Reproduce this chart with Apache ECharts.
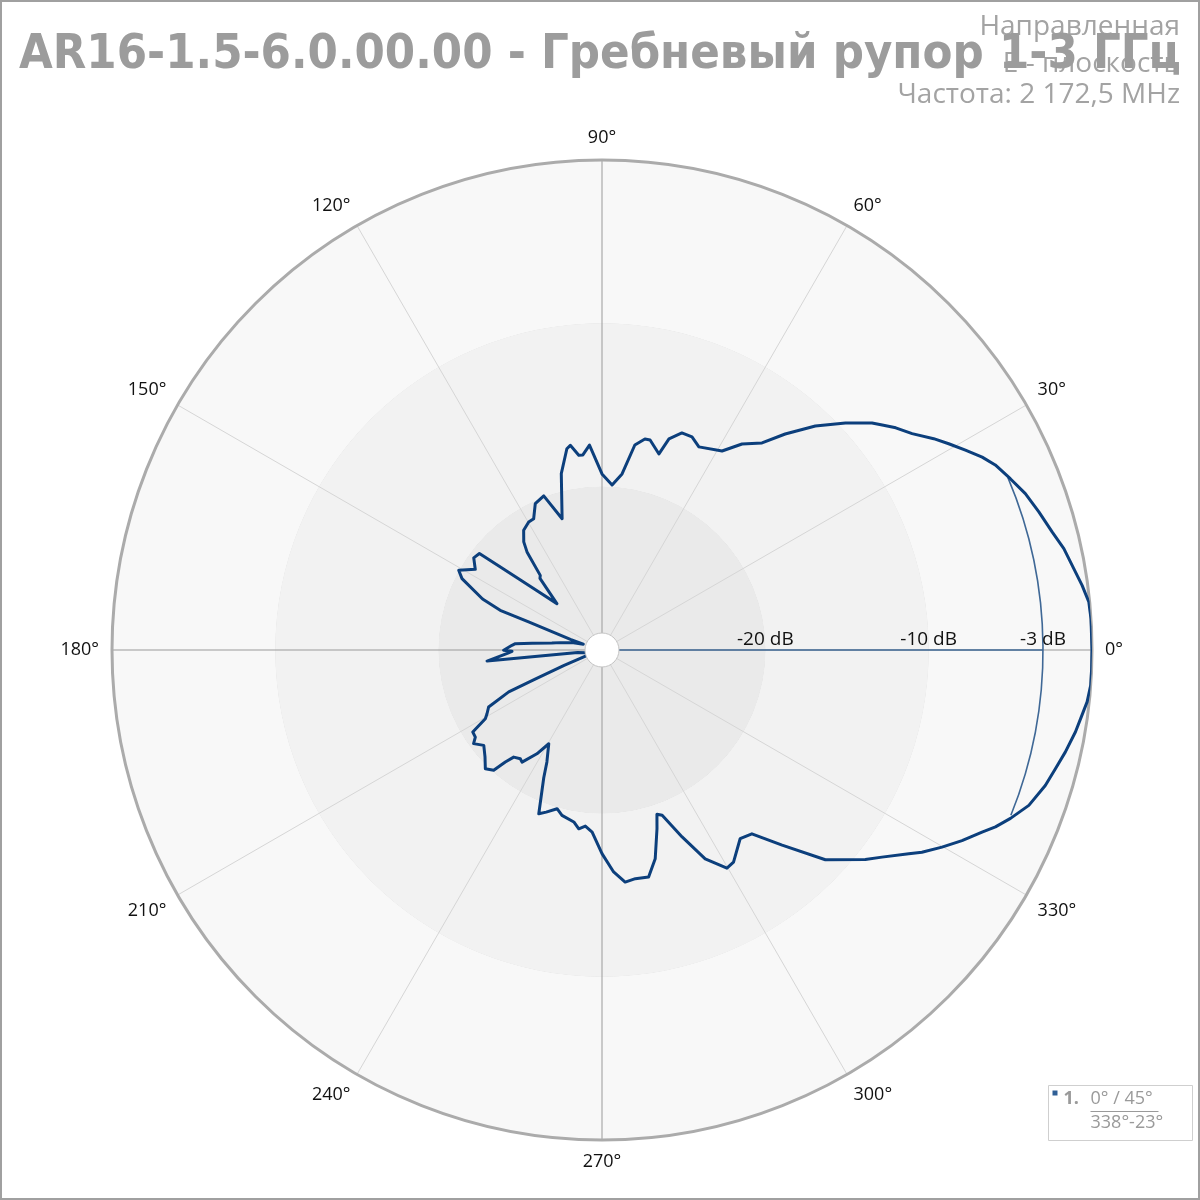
<!DOCTYPE html>
<html><head><meta charset="utf-8">
<script src="https://cdn.jsdelivr.net/npm/echarts@6/dist/echarts.min.js"></script>
<style>
html,body{margin:0;padding:0;background:#fff;}
#chart{width:1200px;height:1200px;box-sizing:border-box;border:2px solid #a0a0a0;}
</style></head>
<body><div id="chart"></div>
<script>
// Pattern: angle (deg) and level (dB)
const angles = [0,3.66,5.63,7.67,9.78,12.38,14.7,17.54,20.27,22.76,25.2,26.9,28.8,30.75,32.5,34.9,37.1,38.75,40.06,43.0,46.4,49.7,52.3,55.8,58.9,
  64.5,67.1,69.8,72.4,73.8,77.1,78.5,80.9,83.5,86.5,90,93.5,95.6,96.8,98.8,99.9,103.0,106.9,110.7,114.5,
  117.5,119.8,123.2,125.9,127.4,129.6,130.9,134.2,137.5,139.5,140.8,141.8,144.3,147.5,150.9,153.0,156.9,158.7,159.1,161.5,
  163,166,170,172,174.5,175.8,177,180.2,180.8,182,185.5,186,190,195,200,202,203.5,204.2,206.7,209,
  210.5,212.4,214.5,216.1,218.9,222.4,225.5,226.3,228,229.2,230.5,233.1,234.5,237.9,240.4,241.5,243.8,245.5,248.9,251,
  254.2,256.4,260.7,262.6,264.6,266.9,270,273,275.7,278.3,281.6,284.3,287.1,288.5,290,293.2,296.3,299.8,301.8,306.2,
  309.2,312.7,316.8,321.5,323.5,326.4,327.7,329.9,332.1,334.4,335.8,337.6,340,343.0,345.3,347.6,350.2,352.3,353.9,355.9,357.8,360];
const levels = [0,0,-0.05,-0.34,-0.69,-1.05,-1.51,-1.95,-2.37,-2.89,-3.39,-3.9,-4.61,-5.3,-5.92,-6.85,-7.45,-8.0,-8.4,-9.62,-11.06,-12.66,-13.98,-14.75,-15.77,
  -16.22,-15.84,-15.84,-16.44,-17.5,-16.81,-16.82,-17.29,-19.15,-19.88,-19.22,-17.43,-18.0,-17.99,-17.32,-17.49,-18.92,-21.6,-19.91,-20.15,
  -20.94,-20.97,-21.24,-21.83,-22.44,-24.07,-24.2,-26.04,-24.67,-23.28,-21.88,-20.45,-20.33,-20.8,-19.96,-20.38,-22.05,-23.31,-25.19,-28.0,
  -28.8,-28.1,-27.4,-26.9,-25.7,-24.68,-24.48,-23.98,-24.49,-24.2,-22.93,-28.5,-29,-29,-29,-27.5,-25.5,-23.74,-22.23,-21.95,
  -21.71,-20.63,-20.59,-20.27,-20.7,-20.3,-19.81,-19.81,-20.09,-20.94,-21.5,-21.67,-21.57,-22.5,-23.4,-23.36,-22.36,-21.4,-19.25,-19.5,
  -19.9,-19.58,-19.33,-18.96,-19.17,-18.84,-17.53,-16.39,-15.72,-15.85,-15.81,-16.81,-18.55,-19.4,-19.23,-17.55,-15.74,-14.61,-14.72,-15.68,
  -15.48,-13.74,-11.24,-9.4,-8.68,-7.45,-6.83,-5.94,-5.06,-4.2,-3.59,-2.95,-2.19,-1.62,-1.31,-0.95,-0.58,-0.34,-0.13,0,0,0];
const angleTicks = [0,30,60,90,120,150,180,210,240,270,300,330];
const dbLabels = [-20,-10,-3];
const beam = {level:-3, start:338, end:23, direction:0, width:45};
const titleText = 'AR16-1.5-6.0.00.00 - Гребневый рупор 1-3 ГГц';
const infoLines = ['Направленная','E - плоскость','Частота: 2 172,5 MHz'];
const legendLines = ['1.', '0° / 45°', '338°-23°'];

const patternData = angles.map((a,i)=>[levels[i], a]);

const chart = echarts.init(document.getElementById('chart'), null, {renderer:'canvas'});
const gray = '#9c9c9c';
const infoFont = {fontFamily:'Open Sans', fontSize:28, color:'#a3a3a3', fontWeight:'normal'};
chart.setOption({
  animation:false,
  backgroundColor:'#fff',
  title:[
    {text:infoLines[0], right:13, top:6, textStyle:infoFont},
    {text:infoLines[1], right:13, top:43, textStyle:infoFont},
    {text:infoLines[2], right:13, top:74, textStyle:infoFont},
    {text:titleText, left:12, top:24, textStyle:{fontFamily:'DejaVu Sans Condensed', fontWeight:'bold', fontSize:48.5, color:gray}}
  ],
  polar:{center:[600,648], radius:490},
  angleAxis:{
    type:'value', min:0, max:360, interval:30, startAngle:0, clockwise:false,
    axisLine:{show:true, lineStyle:{color:'#ababab', width:3}},
    axisTick:{show:false},
    axisLabel:{show:true, margin:13, fontFamily:'Open Sans', fontSize:18, color:'#111',
      formatter:v=> angleTicks.includes(v) && v<360 ? v+'°' : ''},
    splitLine:{show:true, lineStyle:{color:['#9a9a9a','#d6d6d6','#d6d6d6'], width:1}}
  },
  radiusAxis:{
    type:'value', min:-30, max:0, interval:10,
    axisLine:{show:false}, axisTick:{show:false}, axisLabel:{show:false},
    splitLine:{show:true, lineStyle:{color:'#d2d2d2', width:1}},
    splitArea:{show:true, areaStyle:{color:['#eaeaea','#f2f2f2','#f8f8f8']}}
  },
  series:[
    {
      type:'custom', coordinateSystem:'polar', z:3, silent:true,
      data:[[beam.level, beam.start, beam.end, beam.direction]],
      renderItem:(params, api)=>{
        const c = api.coord([-30, 0]);
        const p = api.coord([api.value(0), api.value(3)]);
        const r = Math.hypot(p[0]-c[0], p[1]-c[1]);
        const s = api.value(1), e = api.value(2);
        return {type:'group', children:[
          {type:'arc', shape:{cx:c[0], cy:c[1], r:r, startAngle:-e*Math.PI/180, endAngle:(360-s)*Math.PI/180, clockwise:true},
           style:{stroke:'#3f6896', lineWidth:1.6, fill:null}},
          {type:'line', shape:{x1:c[0], y1:c[1], x2:p[0], y2:p[1]}, style:{stroke:'#3f6896', lineWidth:1.6}}
        ]};
      }
    },
    {
      type:'line', coordinateSystem:'polar', z:4, data:patternData, showSymbol:false, smooth:false,
      lineStyle:{color:'#0c3f7c', width:3, join:'round'}, silent:true
    },
    {
      type:'custom', coordinateSystem:'polar', z:6, silent:true,
      data:dbLabels.map(v=>[v,0]),
      renderItem:(params, api)=>{
        const p = api.coord([api.value(0), api.value(1)]);
        return {type:'text', x:p[0], y:p[1]-1, style:{text:api.value(0)+' dB', align:'center', verticalAlign:'bottom',
          font:'19px "Open Sans"', fill:'#111'}};
      }
    },
    {
      type:'scatter', coordinateSystem:'polar', z:8, silent:true, data:[[-30,0]], symbolSize:34,
      itemStyle:{color:'#fff', borderColor:'#c4c4c4', borderWidth:1, opacity:1}
    }
  ],
  graphic:[{
    type:'group', left:1046, top:1083, children:[
      {type:'rect', shape:{x:0,y:0,width:144,height:55}, style:{fill:'#fff', stroke:'#cfcfcf', lineWidth:1}},
      {type:'rect', shape:{x:4,y:5,width:5,height:5}, style:{fill:'#2f5f96'}},
      {type:'text', x:15, y:4, style:{text:legendLines[0], font:'bold 18px "Open Sans"', fill:'#9a9a9a'}},
      {type:'text', x:42, y:4, style:{text:legendLines[1], font:'18px "Open Sans"', fill:'#9a9a9a'}},
      {type:'line', shape:{x1:42,y1:26,x2:110,y2:26}, style:{stroke:'#9a9a9a', lineWidth:1}},
      {type:'text', x:42, y:28, style:{text:legendLines[2], font:'18px "Open Sans"', fill:'#9a9a9a'}}
    ]
  }]
});
</script></body></html>
